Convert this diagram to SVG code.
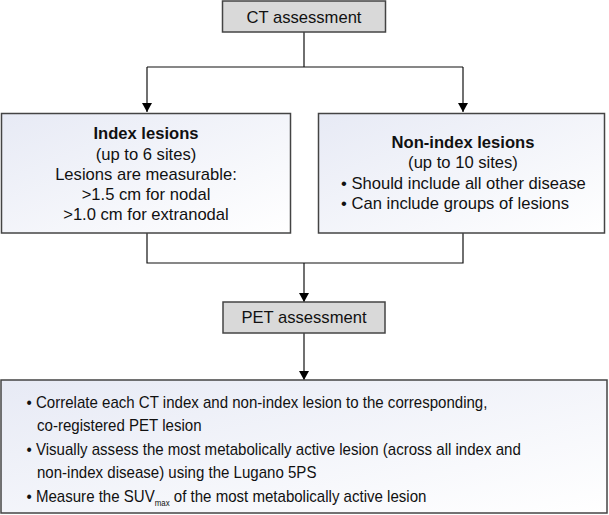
<svg xmlns="http://www.w3.org/2000/svg" width="609" height="515" viewBox="0 0 609 515">
<defs>
<linearGradient id="g" x1="0" y1="0" x2="1" y2="1">
<stop offset="0" stop-color="#e7eaf5"/>
<stop offset="1" stop-color="#ffffff"/>
</linearGradient>
<marker id="ah" markerWidth="9" markerHeight="10" refX="9" refY="5" orient="auto" markerUnits="userSpaceOnUse" viewBox="0 0 9 10">
<path d="M0,0 L9,5 L0,10 Z" fill="#000"/>
</marker>
<style>
text{font-family:"Liberation Sans",Arial,sans-serif;font-size:16.6px;fill:#111}
.c{text-anchor:middle}
.b{font-weight:bold}
.s{font-size:16.2px}
.hdr{fill:#d9d9d9;stroke:#444;stroke-width:1.5}
.box{fill:url(#g);stroke:#444;stroke-width:1.5}
.ln{fill:none;stroke:#111;stroke-width:1.2}
</style>
</defs>
<rect width="609" height="515" fill="#fff"/>
<g id="connectors">
<path class="ln" d="M304,32 V67 M147,67 H463"/>
<path class="ln" d="M147,67 V112" marker-end="url(#ah)"/>
<path class="ln" d="M463,67 V112" marker-end="url(#ah)"/>
<path class="ln" d="M147,233 V263 H463 V233"/>
<path class="ln" d="M304,263 V302" marker-end="url(#ah)"/>
<path class="ln" d="M304,333 V380" marker-end="url(#ah)"/>
</g>
<g id="ct">
<rect class="hdr" x="222.5" y="1" width="163" height="31"/>
<text class="c" x="304" y="23">CT assessment</text>
</g>
<g id="index">
<rect class="box" x="1.5" y="113.5" width="289" height="119.5"/>
<text class="c b" x="146" y="139">Index lesions</text>
<text class="c" x="146" y="159.5">(up to 6 sites)</text>
<text class="c" x="146" y="179.5">Lesions are measurable:</text>
<text class="c" x="146" y="199.5">&gt;1.5 cm for nodal</text>
<text class="c" x="146" y="219.5">&gt;1.0 cm for extranodal</text>
</g>
<g id="nonindex">
<rect class="box" x="318.5" y="113.5" width="286" height="119.5"/>
<text class="c b" x="463" y="148">Non-index lesions</text>
<text class="c" x="463" y="168">(up to 10 sites)</text>
<text x="341" y="189">• Should include all other disease</text>
<text x="341" y="209">• Can include groups of lesions</text>
</g>
<g id="pet">
<rect class="hdr" x="223" y="302" width="162" height="31"/>
<text class="c" x="304" y="323">PET assessment</text>
</g>
<g id="petbox">
<rect class="box" x="1" y="380" width="606" height="133"/>
<g transform="scale(0.93,1)">
<text class="s" x="28.5" y="408">• Correlate each CT index and non-index lesion to the corresponding,</text>
<text class="s" x="39.8" y="431.5">co-registered PET lesion</text>
<text class="s" x="28.5" y="455">• Visually assess the most metabolically active lesion (across all index and</text>
<text class="s" x="39.8" y="478.5">non-index disease) using the Lugano 5PS</text>
<text class="s" x="28.5" y="502">• Measure the SUV<tspan font-size="8.5" dy="4">max</tspan><tspan dy="-4"> of the most metabolically active lesion</tspan></text>
</g>
</g>
</svg>
